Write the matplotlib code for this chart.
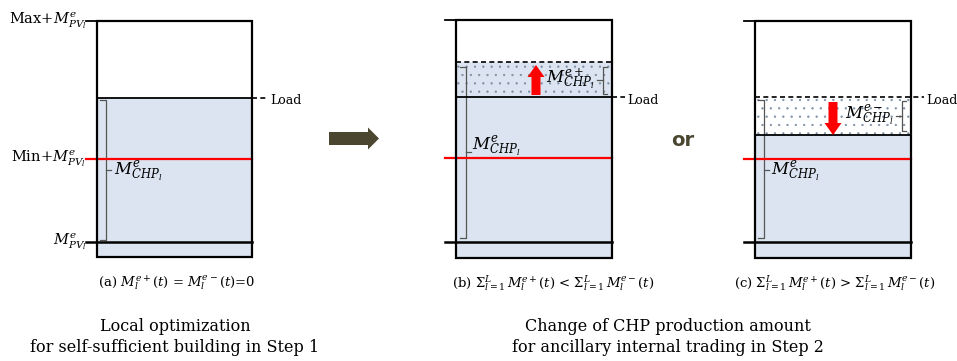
import numpy as np
import matplotlib
matplotlib.use("Agg")
import matplotlib.pyplot as plt
from matplotlib.patches import Rectangle

# ---- data (pixel levels, y grows downward) ---------------------------------
panel_names = ["a", "b", "c"]
box_left = [97, 456, 755]
box_right = [252, 612, 911]
box_top = [21, 20, 21]
box_bottom = [257, 258, 258]
load_y = [98, 97, 97]            # load level
chp_y = [98, 97, 135]            # base CHP production level (top of solid fill)
extra_top = [None, 62, None]     # upper edge of the increase band (b)
reduce_bottom = [None, None, 135]  # lower edge of the decrease band (c)
red_y = [159, 158, 159]          # Min + M_PV
pv_y = [242, 242, 242]           # M_PV
load_dash_len = [16, 13, 13]

captions = [
    r"(a) $M_l^{e+}(t)$ = $M_l^{e-}(t)$=0",
    r"(b) $\Sigma_{l=1}^{L}\, M_l^{e+}(t)$ < $\Sigma_{l=1}^{L}\, M_l^{e-}(t)$",
    r"(c) $\Sigma_{l=1}^{L}\, M_l^{e+}(t)$ > $\Sigma_{l=1}^{L}\, M_l^{e-}(t)$",
]
caption_x = [177, 553, 835]
step_titles = ["Local optimization\nfor self-sufficient building in Step 1",
               "Change of CHP production amount\nfor ancillary internal trading in Step 2"]
step_x = [175, 668]
axis_labels = [r"Max+$M^{e}_{PV_l}$", r"Min+$M^{e}_{PV_l}$", r"$M^{e}_{PV_l}$"]

BLUE = "#dbe4f0"
RED = "#ff0000"
OLIVE = "#4b4630"
DOTS = "#7d8da3"

plt.rcParams["mathtext.fontset"] = "dejavuserif"
plt.rcParams["font.family"] = ["DejaVu Serif"]
plt.rcParams["hatch.linewidth"] = 0.4

fig = plt.figure(figsize=(9.57, 3.61), dpi=100)
ax = fig.add_axes([0, 0, 1, 1])
ax.set_xlim(0, 957)
ax.set_ylim(361, 0)
ax.axis("off")


def brace_left(x, y0, y1, ym, tip=6, tick=5):
    # vertical stroke with tips to the left and a middle tick to the right
    ax.plot([x - tip, x, x, x - tip], [y0, y0, y1, y1], color="#555555", lw=0.9)
    ax.plot([x, x + tick], [ym, ym], color="#555555", lw=0.9)


def brace_right(x, y0, y1, ym, tip=4, tick=6):
    ax.plot([x + tip, x, x, x + tip], [y0, y0, y1, y1], color="#555555", lw=0.9)
    ax.plot([x, x - tick], [ym, ym], color="#555555", lw=0.9)


for i in range(3):
    L, R, T, B = box_left[i], box_right[i], box_top[i], box_bottom[i]
    W = R - L
    dl = load_dash_len[i]
    # solid CHP fill
    ax.add_patch(Rectangle((L, chp_y[i]), W, B - chp_y[i], facecolor=BLUE,
                           edgecolor="none", zorder=1))
    if extra_top[i] is not None:
        ax.add_patch(Rectangle((L, extra_top[i]), W, chp_y[i] - extra_top[i],
                               facecolor=BLUE, edgecolor=DOTS, hatch="..",
                               lw=0, zorder=1))
        ax.plot([L, R], [extra_top[i]] * 2, color="black", lw=1.2, ls=(0, (3, 2)), zorder=3)
    if reduce_bottom[i] is not None:
        ax.add_patch(Rectangle((L, load_y[i]), W, reduce_bottom[i] - load_y[i],
                               facecolor="white", edgecolor=DOTS, hatch="..",
                               lw=0, zorder=1))
    # box outline
    ax.add_patch(Rectangle((L, T), W, B - T, facecolor="none", edgecolor="black",
                           lw=1.6, zorder=4))
    # top tick extending left
    ax.plot([L - 11, L], [T, T], color="black", lw=1.3, zorder=4)
    # load level
    if i == 2:
        ax.plot([L, R + dl], [load_y[i]] * 2, color="black", lw=1.2,
                ls=(0, (3, 2)), zorder=3)
        ax.plot([L, R], [chp_y[i]] * 2, color="black", lw=1.3, zorder=3)
    else:
        ax.plot([L, R], [load_y[i]] * 2, color="black", lw=1.3, zorder=3)
        ax.plot([R, R + dl], [load_y[i]] * 2, color="black", lw=1.2,
                ls=(0, (3, 2)), zorder=3)
    ax.text(R + dl + 2, load_y[i] + 3, "Load", fontsize=9, va="center", ha="left")
    # red min line and PV line
    ax.plot([L - 11, R], [red_y[i]] * 2, color=RED, lw=1.6, zorder=3)
    ax.plot([L - 11, R], [pv_y[i]] * 2, color="black", lw=1.8, zorder=3)
    # caption
    ax.text(caption_x[i], 283, captions[i], fontsize=9.5, ha="center", va="center")

# left axis labels on panel (a)
for lab, y in zip(axis_labels, [box_top[0], red_y[0], pv_y[0]]):
    ax.text(86, y, lab, fontsize=10.5, ha="right", va="center")

# big braces for M_CHP
brace_left(106, 100, 240, 170)
ax.text(114, 172, r"$M^{e}_{CHP_l}$", fontsize=12, ha="left", va="center")
brace_left(466, 67, 238, 152)
ax.text(472, 147, r"$M^{e}_{CHP_l}$", fontsize=12, ha="left", va="center")
brace_left(764, 100, 238, 170)
ax.text(771, 172, r"$M^{e}_{CHP_l}$", fontsize=12, ha="left", va="center")

# small braces for the change
brace_right(603, 67, 94, 80)
ax.text(546, 79, r"$M^{e+}_{CHP_l}$", fontsize=12, ha="left", va="center", zorder=5)
brace_right(902, 101, 131, 116)
ax.text(845, 116, r"$M^{e-}_{CHP_l}$", fontsize=12, ha="left", va="center", zorder=5)

# red arrows
ax.arrow(536, 95, 0, -30, width=9, head_width=17, head_length=12,
         length_includes_head=True, color=RED, lw=0, zorder=5)
ax.arrow(833, 102, 0, 33, width=9, head_width=17, head_length=12,
         length_includes_head=True, color=RED, lw=0, zorder=5)

# step arrow and "or"
ax.arrow(329, 138.5, 50, 0, width=13, head_width=22, head_length=11,
         length_includes_head=True, color=OLIVE, lw=0)
ax.text(683, 140, "or", fontsize=14, fontweight="bold", color=OLIVE,
        ha="center", va="center", family="DejaVu Sans")

# bottom titles
for t, x in zip(step_titles, step_x):
    ax.text(x, 337, t, fontsize=11.5, ha="center", va="center", linespacing=1.3)

fig.savefig("out.png", dpi=100)
